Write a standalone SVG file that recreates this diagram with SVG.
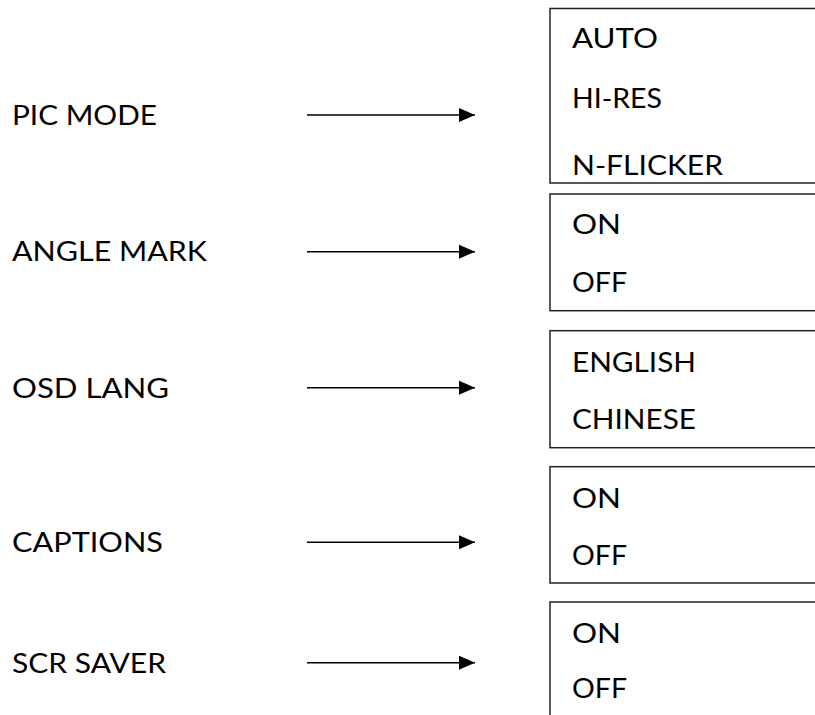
<svg xmlns="http://www.w3.org/2000/svg" width="815" height="715" viewBox="0 0 815 715">
<defs>
<marker id="ah" markerWidth="16" markerHeight="14" refX="16" refY="7" orient="auto" markerUnits="userSpaceOnUse">
<path d="M0,0 L16,7 L0,14 Z" fill="#000"/>
</marker>
</defs>
<style>
text{font-family:Lato,"Open Sans","Liberation Sans",sans-serif;font-size:26px;fill:#000}
.box{fill:#fff;stroke:#222;stroke-width:1.5}
.conn{stroke:#000;stroke-width:1.6;fill:none}
</style>
<rect width="815" height="715" fill="#fff"/>
<g id="pic-mode">
<text x="12" y="125" textLength="145" lengthAdjust="spacingAndGlyphs">PIC MODE</text>
</g>
<g id="angle-mark">
<text x="12" y="260.7" textLength="195" lengthAdjust="spacingAndGlyphs">ANGLE MARK</text>
</g>
<g id="osd-lang">
<text x="12" y="397.7" textLength="157" lengthAdjust="spacingAndGlyphs">OSD LANG</text>
</g>
<g id="captions">
<text x="12" y="552.3" textLength="151" lengthAdjust="spacingAndGlyphs">CAPTIONS</text>
</g>
<g id="scr-saver">
<text x="12" y="673.3" textLength="154" lengthAdjust="spacingAndGlyphs">SCR SAVER</text>
</g>
<g id="box-pic-mode">
<rect class="box" x="550" y="8.5" width="280" height="174.5"/>
<text x="572" y="48" textLength="86" lengthAdjust="spacingAndGlyphs">AUTO</text>
<text x="572" y="108" textLength="90" lengthAdjust="spacingAndGlyphs">HI-RES</text>
<text x="572" y="175" textLength="151" lengthAdjust="spacingAndGlyphs">N-FLICKER</text>
</g>
<g id="box-angle-mark">
<rect class="box" x="550" y="194" width="280" height="116.7"/>
<text x="572" y="234" textLength="49" lengthAdjust="spacingAndGlyphs">ON</text>
<text x="572" y="291.7" textLength="55" lengthAdjust="spacingAndGlyphs">OFF</text>
</g>
<g id="box-osd-lang">
<rect class="box" x="550" y="330.7" width="280" height="117"/>
<text x="572" y="372.3" textLength="124" lengthAdjust="spacingAndGlyphs">ENGLISH</text>
<text x="572" y="429.3" textLength="124" lengthAdjust="spacingAndGlyphs">CHINESE</text>
</g>
<g id="box-captions">
<rect class="box" x="550" y="466.7" width="280" height="116.3"/>
<text x="572" y="508.3" textLength="49" lengthAdjust="spacingAndGlyphs">ON</text>
<text x="572" y="565" textLength="55" lengthAdjust="spacingAndGlyphs">OFF</text>
</g>
<g id="box-scr-saver">
<rect class="box" x="550" y="602" width="280" height="130"/>
<text x="572" y="643.3" textLength="49" lengthAdjust="spacingAndGlyphs">ON</text>
<text x="572" y="698.3" textLength="55" lengthAdjust="spacingAndGlyphs">OFF</text>
</g>
<g id="connectors">
<line class="conn" x1="307" y1="115" x2="475" y2="115" marker-end="url(#ah)"/>
<line class="conn" x1="307" y1="251.7" x2="475" y2="251.7" marker-end="url(#ah)"/>
<line class="conn" x1="307" y1="387.7" x2="475" y2="387.7" marker-end="url(#ah)"/>
<line class="conn" x1="307" y1="542.3" x2="475" y2="542.3" marker-end="url(#ah)"/>
<line class="conn" x1="307" y1="662.7" x2="475" y2="662.7" marker-end="url(#ah)"/>
</g>
</svg>
